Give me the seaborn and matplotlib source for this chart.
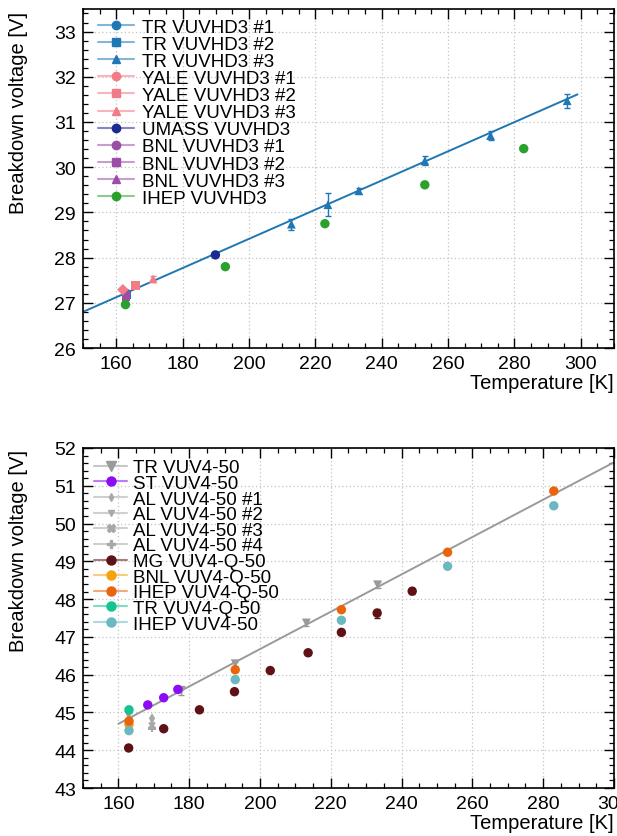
import matplotlib
matplotlib.use("Agg")
import matplotlib.pyplot as plt
from matplotlib.lines import Line2D
from matplotlib.ticker import MultipleLocator
from matplotlib.colors import to_rgb
import pandas as pd
import seaborn as sns

# ---------------- VUVHD3 measurements ----------------
tr_hd3_1_T = [163.0]
tr_hd3_1_V = [27.22]
tr_hd3_2_T = [163.2]
tr_hd3_2_V = [27.17]
tr_hd3_3_T = [212.8, 223.8, 233.1, 253.0, 272.8, 295.9]
tr_hd3_3_V = [28.74, 29.17, 29.48, 30.14, 30.70, 31.47]
tr_hd3_3_E = [0.12, 0.26, 0.07, 0.10, 0.10, 0.15]
yale_hd3_1_T = [162.0]
yale_hd3_1_V = [27.29]
yale_hd3_2_T = [165.8]
yale_hd3_2_V = [27.39]
yale_hd3_3_T = [171.1]
yale_hd3_3_V = [27.53]
yale_hd3_3_E = [0.07]
umass_hd3_T = [189.9]
umass_hd3_V = [28.06]
bnl_hd3_1_T = [163.0]
bnl_hd3_1_V = [27.20]
bnl_hd3_2_T = [163.0]
bnl_hd3_2_V = [27.12]
bnl_hd3_3_T = [163.0]
bnl_hd3_3_V = [27.05]
ihep_hd3_T = [162.8, 192.9, 222.9, 253.0, 282.8]
ihep_hd3_V = [26.96, 27.80, 28.75, 29.61, 30.41]
fit_hd3_T = [150.0, 299.0]
fit_hd3_V = [26.80, 31.61]

# ---------------- VUV4 measurements ----------------
tr_50_T = [162.9, 177.8, 193.0, 213.1, 233.2]
tr_50_V = [44.93, 45.58, 46.29, 47.37, 48.38]
tr_50_E = [0.05, 0.12, 0.05, 0.08, 0.08]
st_50_T = [168.3, 172.8, 176.8]
st_50_V = [45.20, 45.39, 45.61]
al_50_1_T = [169.5]
al_50_1_V = [44.86]
al_50_2_T = [169.5]
al_50_2_V = [44.77]
al_50_3_T = [169.5]
al_50_3_V = [44.66]
al_50_4_T = [169.5]
al_50_4_V = [44.58]
mg_q50_T = [162.9, 172.8, 182.9, 192.8, 202.9, 213.6, 223.0, 233.1, 243.0]
mg_q50_V = [44.06, 44.57, 45.07, 45.55, 46.11, 46.58, 47.12, 47.63, 48.21]
mg_q50_E = [0.04, 0.04, 0.05, 0.06, 0.04, 0.05, 0.05, 0.12, 0.08]
bnl_q50_T = [163.0]
bnl_q50_V = [44.68]
ihep_q50_T = [163.0, 193.0, 223.0, 253.0, 283.0]
ihep_q50_V = [44.77, 46.13, 47.72, 49.24, 50.86]
tr_q50_T = [163.0]
tr_q50_V = [45.07]
ihep_50_T = [163.0, 193.0, 223.0, 253.0, 283.0]
ihep_50_V = [44.52, 45.87, 47.44, 48.87, 50.47]
fit_50_T = [160.0, 300.0]
fit_50_V = [44.70, 51.62]

sns.set_theme(style="white")
plt.rcParams["font.family"] = ["Liberation Sans", "DejaVu Sans"]
plt.rcParams["font.size"] = 13
plt.rcParams["text.color"] = "black"
plt.rcParams["axes.labelcolor"] = "black"

C_TR = "#1f77b4"
C_YALE = "#f27b86"
C_UMASS = "#1b2a8e"
C_BNL = "#9a4ea6"
C_IHEP = "#2ca02c"

C_GRAY = "#9a9a9a"
C_ST = "#8c0cf5"
C_AL = "#a8a8a8"
C_MG = "#5e1216"
C_BNLQ = "#f5a30c"
C_IHEPQ = "#e9640c"
C_TRQ = "#12c48e"
C_IHEP50 = "#6bb8c1"


def lighten(c, f=0.45):
    r, g, b = to_rgb(c)
    return (r + (1 - r) * f, g + (1 - g) * f, b + (1 - b) * f)


def draw(ax, T, V, color, marker, size=40, err=None, z=3):
    df = pd.DataFrame({"T": T, "V": V})
    if err is not None:
        ax.errorbar(T, V, yerr=err, fmt="none", ecolor=color, elinewidth=1.0,
                    capsize=2, capthick=1.0, zorder=z)
    sns.scatterplot(data=df, x="T", y="V", ax=ax, color=color, marker=marker,
                    s=size, edgecolor="none", linewidth=0, zorder=z + 0.1,
                    legend=False)


def style_axes(ax, xlim, ylim, label_y):
    ax.set_xlim(*xlim)
    ax.set_ylim(*ylim)
    ax.xaxis.set_major_locator(MultipleLocator(20))
    ax.xaxis.set_minor_locator(MultipleLocator(5))
    ax.yaxis.set_major_locator(MultipleLocator(1))
    ax.yaxis.set_minor_locator(MultipleLocator(0.2))
    ax.tick_params(which="both", direction="in", top=True, right=True,
                   bottom=True, left=True, colors="black", labelsize=14,
                   labelcolor="black")
    ax.tick_params(which="major", length=7, width=1.0, pad=5)
    ax.tick_params(which="minor", length=3.5, width=0.9)
    for s in ax.spines.values():
        s.set_color("black")
        s.set_linewidth(1.2)
    ax.grid(True, which="major", color="#c4c4c4", linestyle=(0, (1, 2)),
            linewidth=0.9)
    ax.set_axisbelow(True)
    ax.set_xlabel("Temperature [K]", fontsize=14.5, ha="right", x=1.0,
                  labelpad=1)
    ax.set_ylabel("Breakdown voltage [V]", fontsize=14.5, ha="right")
    ax.yaxis.set_label_coords(-0.104, label_y)


def handle(color, marker, ms=6):
    return Line2D([0], [0], color=lighten(color), lw=1.5, marker=marker,
                  markersize=ms, markerfacecolor=color, markeredgecolor=color)


fig = plt.figure(figsize=(6.17, 8.37), dpi=100)
ax1 = fig.add_axes([0.1345, 0.5830, 0.8606, 0.4051])
ax2 = fig.add_axes([0.1345, 0.0573, 0.8606, 0.4063])

# ---- upper panel ----
sns.lineplot(x=fit_hd3_T, y=fit_hd3_V, ax=ax1, color=C_TR, lw=1.4, zorder=2)
draw(ax1, tr_hd3_1_T, tr_hd3_1_V, C_TR, "o")
draw(ax1, tr_hd3_2_T, tr_hd3_2_V, C_TR, "s", size=34)
draw(ax1, tr_hd3_3_T, tr_hd3_3_V, C_TR, "^", size=40, err=tr_hd3_3_E)
draw(ax1, bnl_hd3_1_T, bnl_hd3_1_V, C_BNL, "o")
draw(ax1, bnl_hd3_2_T, bnl_hd3_2_V, C_BNL, "s", size=34)
draw(ax1, bnl_hd3_3_T, bnl_hd3_3_V, C_BNL, "^")
draw(ax1, yale_hd3_1_T, yale_hd3_1_V, C_YALE, "D", size=34)
draw(ax1, yale_hd3_2_T, yale_hd3_2_V, C_YALE, "s", size=40)
draw(ax1, yale_hd3_3_T, yale_hd3_3_V, C_YALE, "^", err=yale_hd3_3_E)
draw(ax1, umass_hd3_T, umass_hd3_V, C_UMASS, "o", size=46)
draw(ax1, ihep_hd3_T, ihep_hd3_V, C_IHEP, "o", size=46, z=4)
style_axes(ax1, (150, 310), (26, 33.5), 0.993)

leg1 = [
    ("TR VUVHD3 #1", C_TR, "o"), ("TR VUVHD3 #2", C_TR, "s"),
    ("TR VUVHD3 #3", C_TR, "^"), ("YALE VUVHD3 #1", C_YALE, "o"),
    ("YALE VUVHD3 #2", C_YALE, "s"), ("YALE VUVHD3 #3", C_YALE, "^"),
    ("UMASS VUVHD3", C_UMASS, "o"), ("BNL VUVHD3 #1", C_BNL, "o"),
    ("BNL VUVHD3 #2", C_BNL, "s"), ("BNL VUVHD3 #3", C_BNL, "^"),
    ("IHEP VUVHD3", C_IHEP, "o"),
]
ax1.legend([handle(c, m) for _, c, m in leg1], [l for l, _, _ in leg1],
           loc="upper left", bbox_to_anchor=(0.012, 0.997), frameon=False,
           fontsize=13.5, labelspacing=0.0, handlelength=1.95,
           handletextpad=0.42, borderaxespad=0.25, borderpad=0.2)

# ---- lower panel ----
sns.lineplot(x=fit_50_T, y=fit_50_V, ax=ax2, color=C_GRAY, lw=1.4, zorder=2)
draw(ax2, tr_50_T, tr_50_V, C_GRAY, "v", size=40, err=tr_50_E)
draw(ax2, al_50_1_T, al_50_1_V, C_AL, "d", size=22)
draw(ax2, al_50_2_T, al_50_2_V, C_AL, "v", size=22)
draw(ax2, al_50_3_T, al_50_3_V, C_AL, "X", size=30)
draw(ax2, al_50_4_T, al_50_4_V, C_AL, "P", size=30)
draw(ax2, st_50_T, st_50_V, C_ST, "o", size=46)
draw(ax2, mg_q50_T, mg_q50_V, C_MG, "o", size=46, err=mg_q50_E)
draw(ax2, bnl_q50_T, bnl_q50_V, C_BNLQ, "o", size=46)
draw(ax2, tr_q50_T, tr_q50_V, C_TRQ, "o", size=46)
draw(ax2, ihep_q50_T, ihep_q50_V, C_IHEPQ, "o", size=46)
draw(ax2, ihep_50_T, ihep_50_V, C_IHEP50, "o", size=46)
style_axes(ax2, (150, 300), (43, 52), 0.998)

leg2 = [
    ("TR VUV4-50", C_GRAY, "v", 6.5), ("ST VUV4-50", C_ST, "o", 6.5),
    ("AL VUV4-50 #1", C_AL, "d", 4), ("AL VUV4-50 #2", C_AL, "v", 4),
    ("AL VUV4-50 #3", C_AL, "X", 6), ("AL VUV4-50 #4", C_AL, "P", 6),
    ("MG VUV4-Q-50", C_MG, "o", 6.5), ("BNL VUV4-Q-50", C_BNLQ, "o", 6.5),
    ("IHEP VUV4-Q-50", C_IHEPQ, "o", 6.5), ("TR VUV4-Q-50", C_TRQ, "o", 6.5),
    ("IHEP VUV4-50", C_IHEP50, "o", 6.5),
]
ax2.legend([handle(c, m, ms) for _, c, m, ms in leg2], [l for l, _, _, _ in leg2],
           loc="upper left", bbox_to_anchor=(0.0, 1.0), frameon=False,
           fontsize=13.5, labelspacing=-0.08, handlelength=1.75,
           handletextpad=0.3, borderaxespad=0.4, borderpad=0.2)

fig.savefig("out.png", dpi=100)
